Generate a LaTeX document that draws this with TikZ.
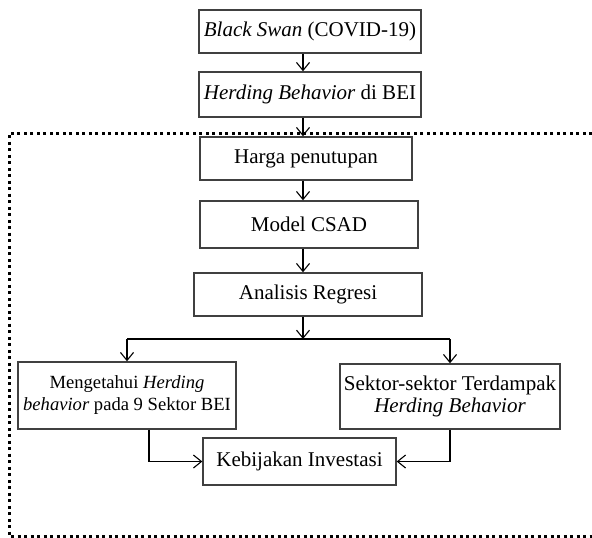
\documentclass[tikz,border=0pt]{standalone}
\usepackage{fontspec}
\setmainfont{Liberation Serif}
\usetikzlibrary{arrows.meta,calc,positioning}

\begin{document}
\begin{tikzpicture}[
    x=0.5pt, y=-0.5pt,
    every node/.style={draw=black!75,line width=0.7pt,minimum height=21.5pt,inner sep=2pt,font=\fontsize{10.5}{11}\selectfont,align=center},
    arr/.style={-{Straight Barb[length=4pt,width=6.5pt]},line width=0.55pt},
    frame/.style={line width=1.5pt,dash pattern=on 1.5pt off 1.75pt}
]
\useasboundingbox (0,0) rectangle (592,537);

% Dotted frame (right side cut off)
\draw[frame] (592,133) -- (9,133) -- (9,536) -- (592,536);

% Main column
\node[minimum width=111pt] (swan) at (310,31.5) {\textit{Black Swan} (COVID-19)};
\node[minimum width=111pt,minimum height=22.5pt] (herding) at (310,94.5) {\textit{Herding Behavior} di BEI};
\node[minimum width=106pt] (harga) at (306,158.5) {Harga penutupan};
\node[minimum width=109pt,minimum height=23.5pt] (csad) at (309,224.5) {Model CSAD};
\node[minimum width=114pt] (regresi) at (308,294.5) {Analisis Regresi};

% Results
\node[minimum width=109pt,minimum height=33.5pt,font=\fontsize{9.3}{11}\selectfont] (tahu) at (127,395.5) {Mengetahui \textit{Herding}\\\textit{behavior} pada 9 Sektor BEI};
\node[minimum width=109pt,minimum height=32.5pt] (sektor) at (450,396.5) {Sektor-sektor Terdampak\\\textit{Herding Behavior}};
\node[minimum width=96.5pt,minimum height=23.5pt] (kebijakan) at (299.5,461.5) {Kebijakan Investasi};

\coordinate (spine) at (303,0);
\coordinate (split) at (0,339);

% Connections
\draw[arr] (swan.south -| spine) -- (herding.north -| spine);
\draw[arr] (herding.south -| spine) -- (harga.north -| spine);
\draw[arr] (harga.south -| spine) -- (csad.north -| spine);
\draw[arr] (csad.south -| spine) -- (regresi.north -| spine);
\draw[arr] (regresi.south -| spine) -- (split -| spine);
\draw[line width=0.55pt] (split -| tahu.north) -- (split -| sektor.north);
\draw[arr] (split -| tahu.north) -- (tahu.north);
\draw[arr] (split -| sektor.north) -- (sektor.north);
\draw[arr] ($(tahu.south)+(22,0)$) |- (kebijakan.west);
\draw[arr] (sektor.south) |- (kebijakan.east);

\end{tikzpicture}
\end{document}
